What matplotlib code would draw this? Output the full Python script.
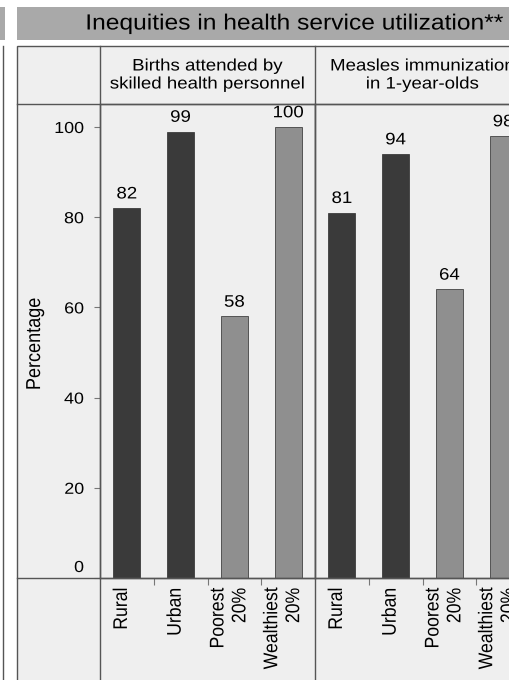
import numpy as np
import matplotlib
matplotlib.use("Agg")
import matplotlib.pyplot as plt
from matplotlib import patheffects, transforms
from matplotlib.patches import Rectangle
from matplotlib.lines import Line2D
from matplotlib.text import Text

# ---- data -------------------------------------------------------------
categories = ["Rural", "Urban", "Poorest\n20%", "Wealthiest\n20%"]
births_attended = [82, 99, 58, 100]
measles_immunization = [81, 94, 64, 98]
panel_titles = ["Births attended by\nskilled health personnel",
                "Measles immunization\nin 1-year-olds"]
y_ticks = [0, 20, 40, 60, 80, 100]
header_title = "Inequities in health service utilization**"
y_label = "Percentage"

# ---- style ------------------------------------------------------------
plt.rcParams["font.family"] = ["Liberation Sans", "DejaVu Sans"]
DARK = "#3a3a3a"
LIGHT = "#8f8f8f"
bar_colors = [DARK, DARK, LIGHT, LIGHT]
CELL_BG = "#efefef"
HEADER_BG = "#a9a9a9"
RULE = "#555555"
TEXT_SX = 1.12   # horizontal widening of glyphs

W, H, DPI = 510, 680, 100
fig = plt.figure(figsize=(W / DPI, H / DPI), dpi=DPI)
fig.patch.set_facecolor("white")


def fx(px):
    return px / W


def fy(py):
    return 1 - py / H


def px_offset(dx, dy):
    return transforms.ScaledTranslation(dx / DPI, dy / DPI, fig.dpi_scale_trans)


class WideText(patheffects.AbstractPathEffect):
    """Draw a text widened horizontally about its own anchor point."""

    def __init__(self, text, sx):
        super().__init__()
        self.text = text
        self.sx = sx

    def draw_path(self, renderer, gc, tpath, affine, rgbFace=None):
        x0, _ = self.text.get_transform().transform(
            self.text.get_unitless_position())
        widen = (transforms.Affine2D().translate(-x0, 0)
                 .scale(self.sx, 1).translate(x0, 0))
        renderer.draw_path(gc, tpath, affine + widen, rgbFace)


# ---- frame: neighbouring panel edge, header bar, table ------------------
fig.add_artist(Rectangle((fx(-5), fy(40)), 10 / W, 33 / H,
                         transform=fig.transFigure, facecolor=HEADER_BG,
                         edgecolor="none", zorder=0))
fig.add_artist(Line2D([fx(3), fx(3)], [fy(46), fy(690)],
                      transform=fig.transFigure, color=RULE, lw=1.0))
fig.add_artist(Rectangle((fx(17), fy(40)), 530 / W, 33 / H,
                         transform=fig.transFigure, facecolor=HEADER_BG,
                         edgecolor="none", zorder=0))
fig.text(fx(294), fy(24), header_title, ha="center", va="center",
         fontsize=15.8, color="black")

fig.add_artist(Rectangle((fx(17), fy(700)), 540 / W, 654 / H,
                         transform=fig.transFigure, facecolor=CELL_BG,
                         edgecolor=RULE, lw=1.0, zorder=0))
for xv in (100, 315, 530):
    fig.add_artist(Line2D([fx(xv), fx(xv)], [fy(46), fy(700)],
                          transform=fig.transFigure, color=RULE, lw=1.0))
for yv in (104, 578):
    fig.add_artist(Line2D([fx(17), fx(560)], [fy(yv), fy(yv)],
                          transform=fig.transFigure, color=RULE, lw=1.0))

fig.text(fx(35), fy(344), y_label, rotation=90, ha="center", va="center",
         fontsize=13)

# ---- bar panels ---------------------------------------------------------
x = np.arange(len(categories))
panels = [births_attended, measles_immunization]
axes = []
for i, (vals, title) in enumerate(zip(panels, panel_titles)):
    left = 100 + i * 215
    ax = fig.add_axes([fx(left), fy(578), 215 / W, 474 / H])
    ax.set_facecolor(CELL_BG)
    ax.bar(x, vals, width=0.5, color=bar_colors, edgecolor="#2a2a2a",
           linewidth=0.5, zorder=2)
    ax.set_xlim(-0.5, 3.5)
    ax.set_ylim(0, 105.1)
    for sp in ax.spines.values():
        sp.set_color(RULE)
        sp.set_linewidth(1.0)

    ax.set_xticks(x)
    ax.set_xticklabels(categories, rotation=90, ha="center", va="top",
                       multialignment="right", fontsize=12.7)
    ax.set_xticks(x[:-1] + 0.5, minor=True)
    ax.tick_params(axis="x", which="major", length=0, pad=7)
    ax.tick_params(axis="x", which="minor", length=5, width=0.8,
                   color="#777777", direction="out")
    for lab in ax.get_xticklabels():
        lab.set_transform(lab.get_transform() + px_offset(-5, 0))

    if i == 0:
        ax.set_yticks(y_ticks)
        ax.set_yticklabels([str(t) if t else "" for t in y_ticks],
                           fontsize=11.5)
        ax.tick_params(axis="y", length=4.5, width=0.8, color="#777777",
                       pad=7)
        ax.text(0, y_ticks[0], str(y_ticks[0]), ha="right",
                va="center_baseline", fontsize=11.5,
                transform=ax.get_yaxis_transform() + px_offset(-16, 12))
    else:
        ax.set_yticks([])

    for xi, v in zip(x, vals):
        ax.annotate(str(v), (xi, v), xytext=(0, 7), textcoords="offset points",
                    ha="center", va="baseline", fontsize=12)

    fig.text(fx(left + 107.5), fy(75), title, ha="center", va="center",
             fontsize=12, linespacing=1.25)
    axes.append(ax)

# widen every glyph run once the tick objects exist
fig.canvas.draw()
for t in fig.findobj(Text):
    if t.get_text():
        t.set_path_effects([WideText(t, TEXT_SX)])

fig.savefig("out.png", dpi=DPI, facecolor=fig.get_facecolor())
